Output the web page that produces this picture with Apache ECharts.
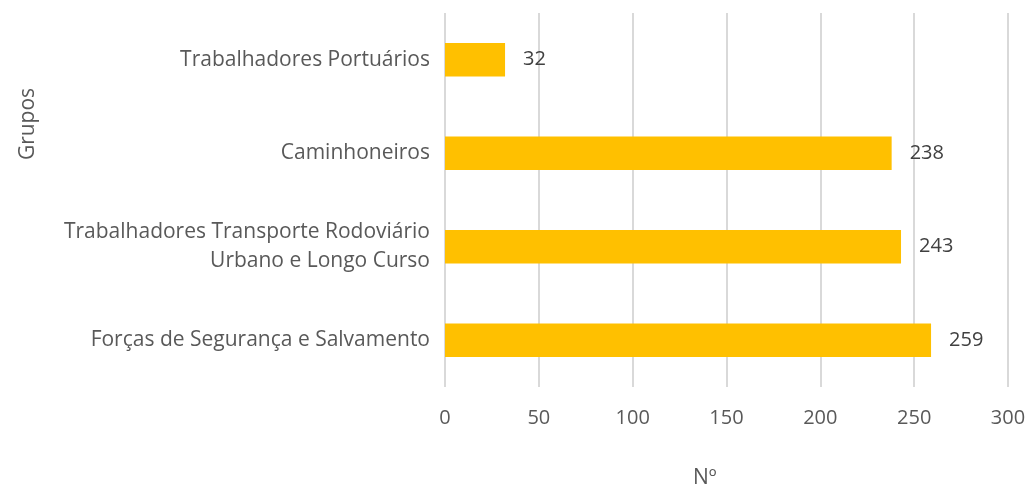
<!DOCTYPE html>
<html>
<head>
<meta charset="utf-8">
<script src="https://cdn.jsdelivr.net/npm/echarts@6/dist/echarts.min.js"></script>
<style>
  html, body { margin: 0; padding: 0; background: #fff; }
  #chart { width: 1030px; height: 487px; }
</style>
</head>
<body>
<div id="chart"></div>
<script>
// grupos, de cima para baixo
const categories = [
    "Trabalhadores Portuários",
    "Caminhoneiros",
    "Trabalhadores Transporte Rodoviário\nUrbano e Longo Curso",
    "Forças de Segurança e Salvamento"
]
const values = [32, 238, 243, 259]
const xTicks = { min: 0, max: 300, interval: 50 }

const font = "Open Sans"
const textColor = "#595959"

let chart = echarts.init(document.getElementById("chart"))
let option = {
    animation: false,
    textStyle: { fontFamily: font },
    grid: { left: 445, right: 22, top: 13, bottom: 100, outerBoundsMode: "none", containLabel: false },
    xAxis: {
        type: "value",
        min: xTicks.min,
        max: xTicks.max,
        interval: xTicks.interval,
        axisLine: { show: false },
        axisTick: { show: false },
        axisLabel: { color: textColor, fontSize: 20, margin: 21, fontFamily: font },
        splitLine: { lineStyle: { color: "#d9d9d9", width: 2 } }
    },
    yAxis: {
        type: "category",
        inverse: true,
        data: categories,
        axisLine: { show: false },
        axisTick: { show: false },
        axisLabel: { color: textColor, fontSize: 21, margin: 15, lineHeight: 29, fontFamily: font, align: "right" }
    },
    // títulos dos eixos
    graphic: [{
        type: "text",
        x: 28,
        y: 124,
        rotation: Math.PI / 2,
        style: { text: "Grupos", fill: textColor, font: "21px " + font, align: "center", verticalAlign: "middle" }
    }, {
        type: "text",
        x: 693,
        y: 478,
        style: { text: "Nº", fill: textColor, font: "21px " + font, align: "left", verticalAlign: "middle" }
    }],
    series: [{
        type: "bar",
        data: values,
        barWidth: "36%",
        itemStyle: { color: "#FFC000" },
        label: {
            show: true,
            position: "right",
            distance: 18,
            color: "#404040",
            fontSize: 20,
            fontFamily: font
        }
    }]
}
chart.setOption(option)
</script>
</body>
</html>
